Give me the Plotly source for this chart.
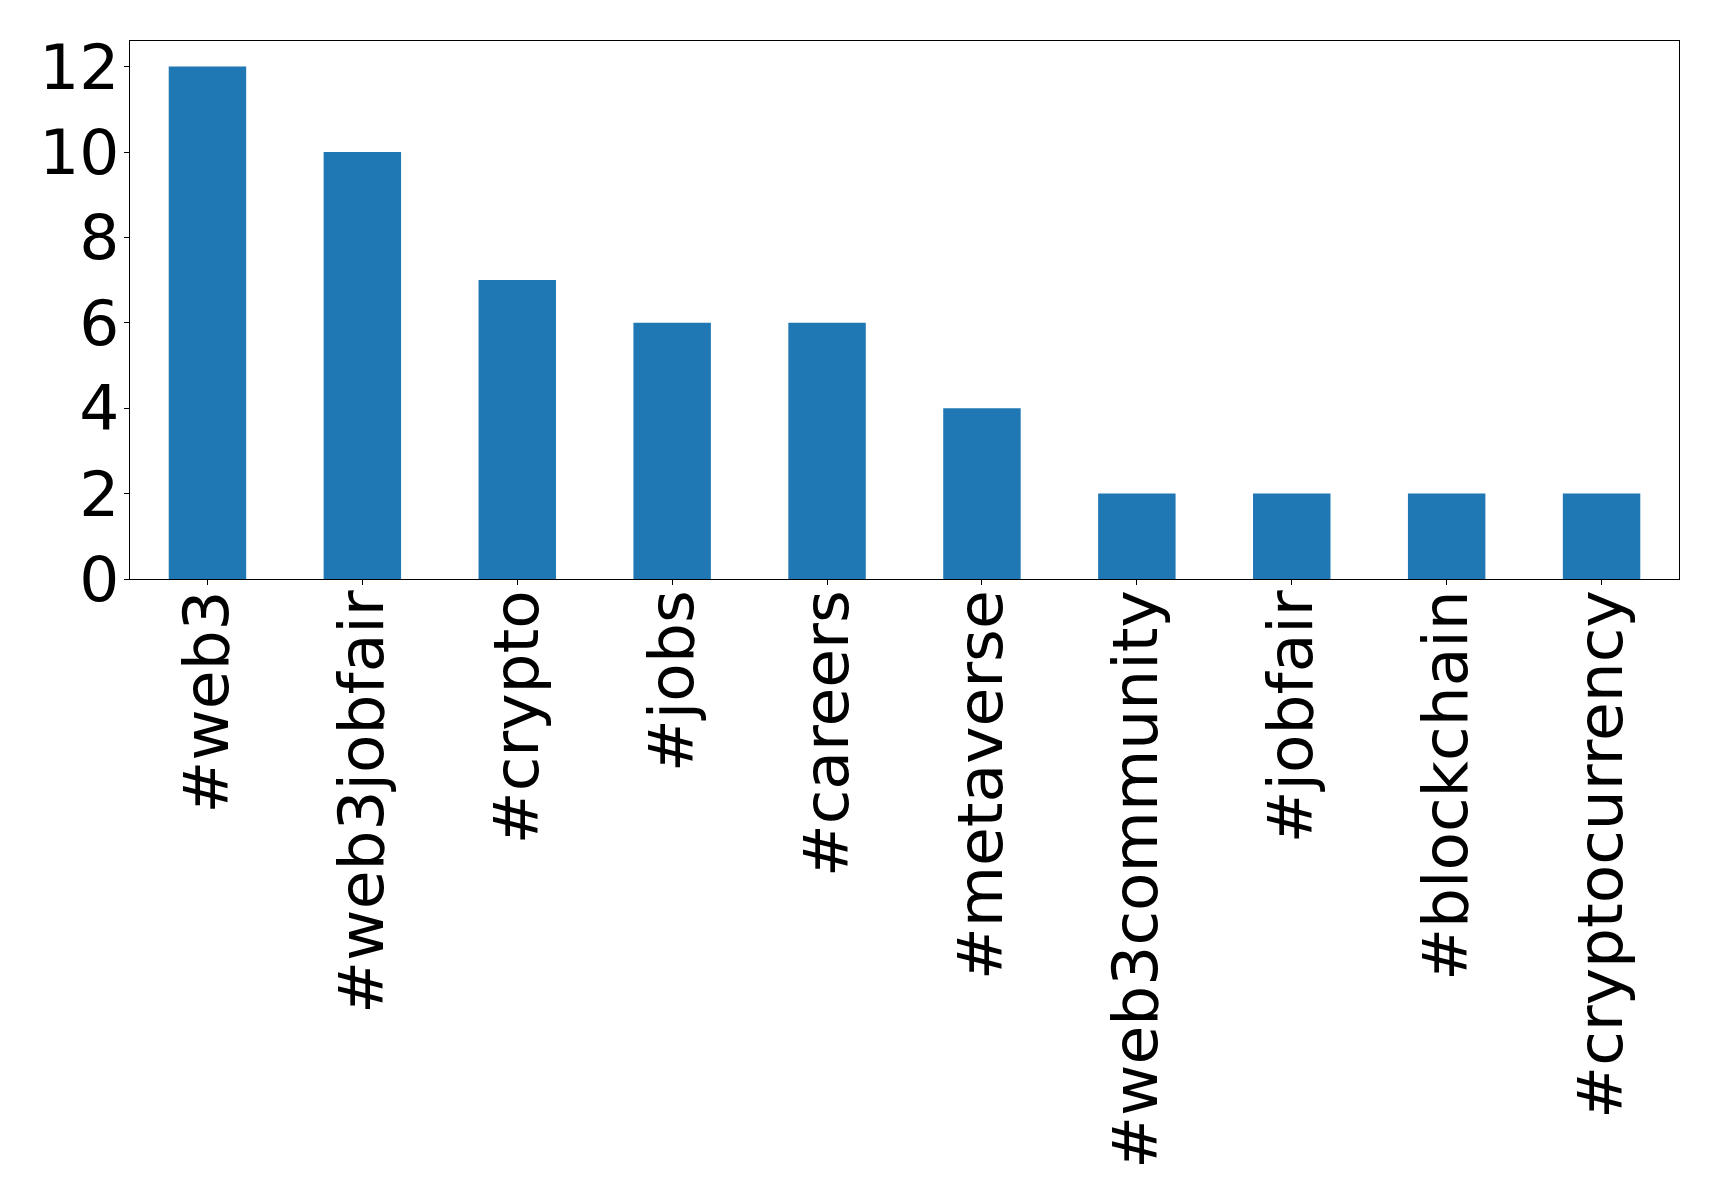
import plotly.graph_objects as go

categories = ["#web3", "#web3jobfair", "#crypto", "#jobs", "#careers",
              "#metaverse", "#web3community", "#jobfair", "#blockchain", "#cryptocurrency"]
counts = [12, 10, 7, 6, 6, 4, 2, 2, 2, 2]
y_ticks = [0, 2, 4, 6, 8, 10, 12]

fig = go.Figure(go.Bar(x=categories, y=counts, width=0.5,
                       marker=dict(color="#1f77b4", line=dict(width=0))))

font = dict(family="DejaVu Sans", size=63, color="black")
fig.update_layout(
    width=1719, height=1202,
    margin=dict(l=129.5, r=39.5, t=40.5, b=623),
    paper_bgcolor="white", plot_bgcolor="white",
    showlegend=False,
    font=font,
)
fig.update_xaxes(range=[-0.5, 9.5], tickangle=-90, ticks="outside", ticklen=5,
                 tickcolor="black", showline=True, linecolor="black", linewidth=1.2,
                 mirror=True, showgrid=False, tickfont=font, ticklabelstandoff=-20)
fig.update_yaxes(range=[0, 12.6], tickvals=y_ticks, ticks="outside", ticklen=5,
                 tickcolor="black", showline=True, linecolor="black", linewidth=1.2,
                 mirror=True, showgrid=False, zeroline=False, tickfont=font,
                 ticklabelstandoff=-8)

fig.write_html("out.html", config={"displayModeBar": False},
               post_script="document.body.style.margin='0';document.body.style.overflow='hidden';")
